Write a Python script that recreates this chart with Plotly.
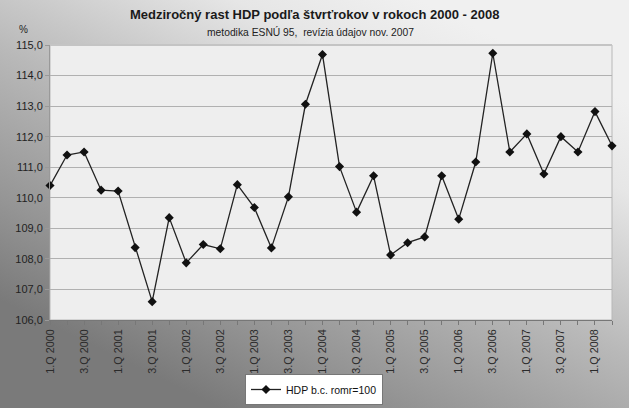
import plotly.graph_objects as go
import urllib.parse

quarters = [f"{q}.Q {y}" for y in range(2000, 2009) for q in (1, 2, 3, 4)][:34]
values = [110.4, 111.4, 111.5, 110.25, 110.22, 108.37, 106.6, 109.35, 107.87, 108.47,
          108.33, 110.43, 109.68, 108.36, 110.03, 113.06, 114.69, 111.02, 109.53, 110.72,
          108.13, 108.53, 108.72, 110.72, 109.3, 111.17, 114.73, 111.5, 112.09, 110.78,
          112.0, 111.5, 112.82, 111.7]
y_ticks = [106, 107, 108, 109, 110, 111, 112, 113, 114, 115]

title = "Medziročný rast HDP podľa štvrťrokov v rokoch 2000 - 2008"
subtitle = "metodika ESNÚ 95,  revízia údajov nov. 2007"
series_name = "HDP b.c. romr=100"

W, H = 629, 408
ml, mr, mt, mb = 50, 17, 45, 88
pw, ph = W - ml - mr, H - mt - mb

svg = (
    '<svg xmlns="http://www.w3.org/2000/svg" width="629" height="408" viewBox="0 0 629 408" preserveAspectRatio="none">'
    '<defs><linearGradient id="g" gradientUnits="userSpaceOnUse" x1="420" y1="0" x2="220" y2="408">'
    '<stop offset="0" stop-color="#f0f0f0"/>'
    '<stop offset="0.18" stop-color="#e6e6e6"/>'
    '<stop offset="0.5" stop-color="#b9b9b9"/>'
    '<stop offset="0.8" stop-color="#959595"/>'
    '<stop offset="1" stop-color="#7a7a7a"/>'
    '</linearGradient></defs>'
    '<rect width="629" height="408" fill="url(#g)"/></svg>'
)
bg_src = "data:image/svg+xml;charset=utf-8," + urllib.parse.quote(svg)

x_idx = list(range(len(quarters)))
ticktext = [q if i % 2 == 0 else "" for i, q in enumerate(quarters)]

fig = go.Figure()
fig.add_trace(go.Scatter(
    x=x_idx, y=values, mode="lines+markers", name=series_name,
    line=dict(color="#222222", width=1.3),
    marker=dict(symbol="diamond", size=7, color="#111111"),
    cliponaxis=False,
))

fig.update_layout(
    width=W, height=H,
    margin=dict(l=ml, r=mr, t=mt, b=mb, autoexpand=False),
    paper_bgcolor="#b0b0b0",
    plot_bgcolor="rgba(0,0,0,0)",
    font=dict(family="Liberation Sans, Arial, sans-serif", color="#222222"),
    separators=", ",
    showlegend=True,
    images=[dict(source=bg_src, xref="paper", yref="paper",
                 x=-ml / pw, y=1 + mt / ph, sizex=W / pw, sizey=H / ph,
                 xanchor="left", yanchor="top", sizing="stretch", layer="below")],
    shapes=[
        dict(type="rect", xref="paper", yref="paper", x0=0, x1=1, y0=0, y1=1,
             fillcolor="#eeeeee", line=dict(color="#b8b8b8", width=1), layer="below"),
        dict(type="line", xref="paper", yref="paper", x0=0, x1=1, y0=1, y1=1,
             line=dict(color="#c4c4c4", width=2), layer="below"),
    ],
    annotations=[
        dict(text="<b>" + title + "</b>", xref="paper", yref="paper",
             x=(314 - ml) / pw, y=1 + (mt - 15) / ph, xanchor="center", yanchor="middle",
             showarrow=False, font=dict(size=13, color="#1a1a1a")),
        dict(text=subtitle, xref="paper", yref="paper",
             x=(310 - ml) / pw, y=1 + (mt - 32) / ph, xanchor="center", yanchor="middle",
             showarrow=False, font=dict(size=10.3, color="#222222")),
        dict(text="%", xref="paper", yref="paper",
             x=(23 - ml) / pw, y=1 + (mt - 29) / ph, xanchor="center", yanchor="middle",
             showarrow=False, font=dict(size=10, color="#222222")),
    ],
    legend=dict(orientation="h", x=(314 - ml) / pw, xanchor="center",
                y=-(405 - mt - ph) / ph, yanchor="bottom", itemwidth=30,
                bgcolor="#ffffff", bordercolor="#777777", borderwidth=1,
                font=dict(size=10.5, color="#111111")),
)

fig.update_xaxes(
    range=[0, len(quarters) - 1], automargin=False,
    tickmode="array", tickvals=x_idx, ticktext=ticktext,
    tickangle=-90, tickfont=dict(size=10.8, color="#2a2a2a"),
    ticks="outside", ticklen=4, tickcolor="#777777",
    showgrid=False, zeroline=False,
    showline=True, linecolor="#777777", linewidth=1,
)
fig.update_yaxes(
    range=[106, 115], tickvals=y_ticks, tickformat=".1f", automargin=False,
    tickfont=dict(size=11, color="#222222"),
    ticks="outside", ticklen=4, tickcolor="#999999",
    showgrid=True, gridcolor="#b0b0b0", gridwidth=1, zeroline=False,
    showline=True, linecolor="#999999", linewidth=1,
)

fig.write_html(
    "out.html",
    config={"displayModeBar": False},
    post_script="document.body.style.margin='0px';document.body.style.overflow='hidden';",
)
